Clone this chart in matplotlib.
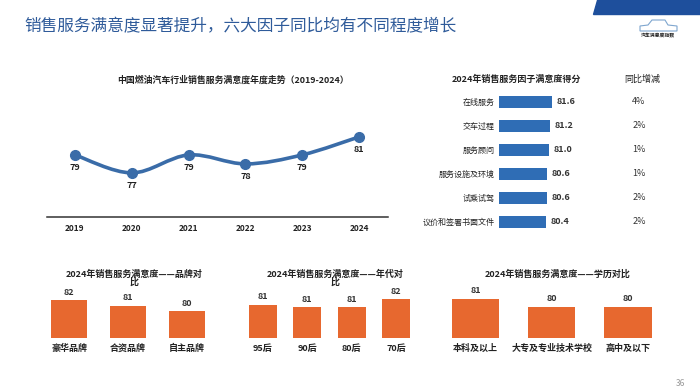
import matplotlib
matplotlib.use('Agg')
import matplotlib.pyplot as plt
from matplotlib.path import Path
from matplotlib.patches import PathPatch, Polygon

plt.rcParams['font.family'] = ['Noto Sans CJK SC', 'DejaVu Sans']

# data
years = ['2019', '2020', '2021', '2022', '2023', '2024']
trend = [79, 77, 79, 78, 79, 81]

factors = ['在线服务', '交车过程', '服务顾问', '服务设施及环境', '试乘试驾', '议价和签署书面文件']
factor_scores = [81.6, 81.2, 81.0, 80.6, 80.6, 80.4]
factor_yoy = ['4%', '2%', '1%', '1%', '2%', '2%']

brands = ['豪华品牌', '合资品牌', '自主品牌']
brand_scores = [82.0, 81.0, 80.0]

ages = ['95后', '90后', '80后', '70后']
age_scores = [81.2, 80.9, 80.9, 82.0]

edu = ['本科及以上', '大专及专业技术学校', '高中及以下']
edu_scores = [81.0, 80.0, 80.0]

W, H = 700, 392
blue_line = '#3A6CA8'
blue_bar = '#2F6DB5'
orange = '#E7682F'
dark = '#222222'

fig = plt.figure(figsize=(W / 100, H / 100), dpi=100)


def rect(l, t, r, b):
    return [l / W, 1 - b / H, (r - l) / W, (b - t) / H]


def ftext(x, y, s, **kw):
    fig.text(x / W, 1 - y / H, s, **kw)


# header
ftext(24, 27, '销售服务满意度显著提升，六大因子同比均有不同程度增长',
      fontsize=12, color='#2F5B9A', va='center', ha='left')
fig.patches.append(Polygon([(597 / W, 1), (1, 1), (1, 1 - 14 / H), (593 / W, 1 - 14 / H)],
                           closed=True, transform=fig.transFigure, color='#1E4F9C'))
car = [(640, 31), (640, 26), (648, 25), (652, 20), (665, 20), (668, 25), (677, 26), (677, 31)]
fig.patches.append(Polygon([(x / W, 1 - y / H) for x, y in car], closed=True, fill=False,
                           transform=fig.transFigure, edgecolor='#7FA6CF', lw=0.8))
ftext(658, 36, '汽车满意度指数', fontsize=3.5, fontweight='bold', ha='center', va='center', color=dark)
ftext(680, 383, '36', fontsize=6, color='#9A9A9A', ha='center', va='center')

# line chart
ax = fig.add_axes(rect(46.5, 100, 387.5, 217))
ftext(233, 80, '中国燃油汽车行业销售服务满意度年度走势（2019-2024）',
      fontsize=6.4, fontweight='bold', color=dark, ha='center', va='center')
xs = list(range(len(trend)))
# smooth curve through the points (Catmull-Rom as cubic Bezier)
pts = list(zip(xs, trend))
verts = [pts[0]]
codes = [Path.MOVETO]
for i in range(len(pts) - 1):
    p0 = pts[i - 1] if i > 0 else pts[i]
    p1 = pts[i]
    p2 = pts[i + 1]
    p3 = pts[i + 2] if i + 2 < len(pts) else pts[i + 1]
    c1 = (p1[0] + (p2[0] - p0[0]) / 6, p1[1] + (p2[1] - p0[1]) / 6)
    c2 = (p2[0] - (p3[0] - p1[0]) / 6, p2[1] - (p3[1] - p1[1]) / 6)
    verts += [c1, c2, p2]
    codes += [Path.CURVE4] * 3
ax.add_patch(PathPatch(Path(verts, codes), fill=False, edgecolor=blue_line, lw=2.6,
                       capstyle='round'))
ax.plot(xs, trend, 'o', color=blue_line, markersize=7, zorder=3)
for x, v in zip(xs, trend):
    ax.annotate(f'{v}', (x, v), xytext=(0, -13), textcoords='offset pixels',
                ha='center', va='center', fontsize=6.5, fontweight='bold', color=dark)
ax.set_xlim(-0.5, 5.5)
ax.set_ylim(72.1, 85.1)
ax.set_xticks(xs)
ax.set_xticklabels(years, fontsize=6, fontweight='bold', color=dark)
ax.set_yticks([])
ax.tick_params(axis='x', length=0, pad=5)
for s in ['top', 'left', 'right']:
    ax.spines[s].set_visible(False)
ax.spines['bottom'].set_color('#333333')
ax.spines['bottom'].set_linewidth(1.1)

# factor bar chart
ax2 = fig.add_axes(rect(499, 90, 649, 234))
ftext(516, 79, '2024年销售服务因子满意度得分', fontsize=6.5, fontweight='bold',
      color=dark, ha='center', va='center')
ftext(642, 79, '同比增减', fontsize=6.5, color=dark, ha='center', va='center')
ys = list(range(len(factors)))
ax2.barh(ys, factor_scores, height=0.54, color=blue_bar)
for y, name, v, p in zip(ys, factors, factor_scores, factor_yoy):
    ax2.text(70.2, y, name, ha='right', va='center', fontsize=5.8, color=dark)
    ax2.text(v + 1, y, f'{v:.1f}', ha='left', va='center', fontsize=6.5, fontweight='bold', color='#333333')
    ax2.text(99, y, p, ha='center', va='center', fontsize=6.5, color='#333333')
ax2.set_xlim(71, 101)
ax2.set_ylim(5.5, -0.5)
ax2.axis('off')


def small_bars(left, right, base, top_val, names, vals, width, title_lines, tx):
    a = fig.add_axes(rect(left, 268, right, 338))
    xs = list(range(len(names)))
    a.bar(xs, vals, width=width, color=orange, bottom=0)
    a.set_xlim(-0.5, len(names) - 0.5)
    a.set_ylim(base, top_val)
    for x, n, v in zip(xs, names, vals):
        a.annotate(f'{v:.0f}', (x, v), xytext=(0, 8), textcoords='offset pixels',
                   ha='center', va='center', fontsize=6.5, fontweight='bold', color='#333333')
        a.annotate(n, (x, base), xytext=(0, -10), textcoords='offset pixels',
                   ha='center', va='center', fontsize=6.5, fontweight='bold', color=dark,
                   annotation_clip=False)
    a.axis('off')
    for k, line in enumerate(title_lines):
        ftext(tx, 274 + 8 * k, line, fontsize=6.5, fontweight='bold', color=dark,
              ha='center', va='center')


small_bars(39.5, 216.5, 75.1, 75.1 + 70 / 5.5, brands, brand_scores, 0.61,
           ['2024年销售服务满意度——品牌对', '比'], 134)
small_bars(240.8, 418.2, 76.64, 76.64 + 70 / 7.27, ages, age_scores, 0.63,
           ['2024年销售服务满意度——年代对', '比'], 335)
small_bars(437.5, 666, 76.1, 76.1 + 70 / 8, edu, edu_scores, 0.62,
           ['2024年销售服务满意度——学历对比'], 558)

plt.savefig('out.png', dpi=100)
